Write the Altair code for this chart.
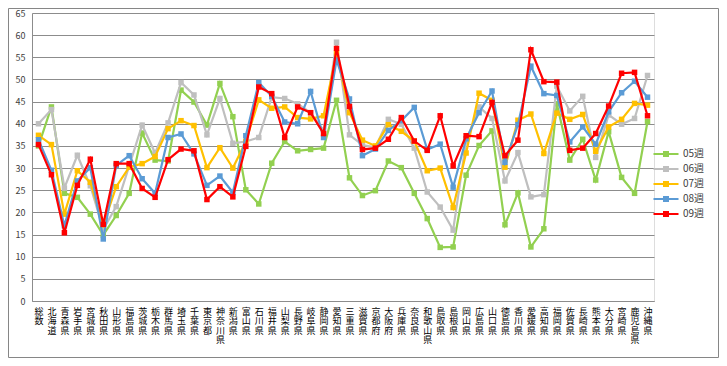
import altair as alt
import pandas as pd

categories = ["総数", "北海道", "青森県", "岩手県", "宮城県", "秋田県", "山形県", "福島県", "茨城県", "栃木県",
              "群馬県", "埼玉県", "千葉県", "東京都", "神奈川県", "新潟県", "富山県", "石川県", "福井県", "山梨県",
              "長野県", "岐阜県", "静岡県", "愛知県", "三重県", "滋賀県", "京都府", "大阪府", "兵庫県", "奈良県",
              "和歌山県", "鳥取県", "島根県", "岡山県", "広島県", "山口県", "徳島県", "香川県", "愛媛県", "高知県",
              "福岡県", "佐賀県", "長崎県", "熊本県", "大分県", "宮崎県", "鹿児島県", "沖縄県"]

series_names = ["05週", "06週", "07週", "08週", "09週"]
series_colors = ["#92D050", "#BFBFBF", "#FFC000", "#5B9BD5", "#FF0000"]

w05 = [35.0, 43.8, 24.3, 23.4, 19.6, 14.9, 19.3, 24.3, 37.9, 31.8, 31.6, 47.6, 44.9, 39.7, 49.1, 41.6,
       25.1, 21.9, 31.1, 36.0, 33.9, 34.2, 34.5, 45.3, 27.8, 23.8, 24.9, 31.6, 30.1, 24.3, 18.6, 12.1,
       12.2, 28.4, 35.1, 38.4, 17.2, 24.4, 12.2, 16.3, 44.5, 31.8, 36.5, 27.3, 38.2, 27.9, 24.3, 40.5]
w06 = [40.0, 43.2, 25.5, 32.9, 26.0, 16.2, 21.3, 30.5, 39.7, 33.4, 40.2, 49.3, 46.5, 37.5, 45.7, 35.6,
       36.0, 36.9, 46.0, 45.7, 44.5, 42.5, 38.5, 58.4, 37.5, 35.2, 34.7, 41.0, 39.9, 34.5, 24.6, 21.2,
       16.0, 36.0, 43.8, 41.2, 27.1, 33.5, 23.5, 24.0, 48.5, 42.9, 46.2, 32.4, 42.0, 39.9, 41.2, 50.9]
w07 = [37.4, 35.3, 19.6, 29.4, 26.8, 17.2, 25.8, 30.2, 31.0, 32.6, 38.9, 40.7, 39.6, 30.1, 34.6, 30.0,
       36.0, 45.4, 43.5, 43.8, 41.4, 41.1, 41.8, 56.0, 42.5, 36.3, 35.0, 39.8, 38.3, 36.1, 29.4, 30.0,
       21.1, 33.4, 46.9, 45.3, 30.2, 40.8, 42.2, 33.3, 42.4, 41.0, 42.1, 33.8, 39.3, 41.0, 44.6, 44.2]
w08 = [36.4, 29.5, 17.0, 27.1, 30.1, 14.0, 30.6, 32.8, 27.6, 24.3, 36.9, 37.7, 33.2, 26.1, 28.2, 24.5,
       37.3, 49.3, 46.2, 40.4, 40.0, 47.3, 36.9, 54.4, 45.6, 32.8, 34.3, 38.5, 40.7, 43.7, 34.2, 35.4,
       25.7, 36.6, 42.5, 47.4, 31.3, 39.8, 53.0, 46.8, 46.4, 35.9, 39.3, 35.4, 42.7, 47.0, 49.6, 46.0]
w09 = [35.3, 28.5, 15.4, 26.1, 32.0, 17.3, 31.0, 31.0, 25.4, 23.4, 31.9, 34.3, 33.9, 22.9, 25.8, 23.5,
       34.9, 48.3, 46.8, 36.9, 43.8, 42.5, 37.8, 57.0, 43.9, 34.2, 34.5, 36.5, 41.4, 36.1, 34.0, 41.8,
       30.5, 37.3, 37.1, 44.8, 32.8, 36.3, 56.7, 49.5, 49.4, 34.0, 34.5, 37.8, 44.0, 51.4, 51.6, 41.8]

y_ticks = list(range(0, 70, 5))

rows = []
for name, vals in zip(series_names, [w05, w06, w07, w08, w09]):
    for c, v in zip(categories, vals):
        rows.append({"pref": c, "series": name, "value": v})
df = pd.DataFrame(rows)

FONT = "Noto Sans CJK JP"
GRID = "#8C8C8C"

color = alt.Color(
    "series:N",
    scale=alt.Scale(domain=series_names, range=series_colors),
    legend=alt.Legend(
        title=None, orient="none", legendX=629, legendY=136,
        symbolType="M-2.5,-0.22H2.5V0.22H-2.5Z M-0.6,-0.6H0.6V0.6H-0.6Z",
        symbolSize=100, symbolStrokeWidth=0, labelOffset=12,
        rowPadding=5, labelFontSize=10, labelFont=FONT, labelColor="#404040",
        padding=0,
    ),
)
x = alt.X("pref:N", sort=categories, title=None,
          scale=alt.Scale(padding=0.5),
          axis=alt.Axis(labelExpr="split(datum.label, '')", labelAngle=0, labelBaseline="top",
                        labelAlign="center", labelPadding=6, labelFontSize=9, labelLineHeight=9.5,
                        labelFont=FONT, labelColor="#000000", labelOverlap=False, ticks=False,
                        domainColor=GRID, grid=False))
y = alt.Y("value:Q", title=None, scale=alt.Scale(domain=[0, 65], nice=False, zero=True),
          axis=alt.Axis(values=y_ticks, labelFontSize=9, labelFont=FONT, labelColor="#404040",
                        labelPadding=7, ticks=False, domainColor=GRID, gridColor=GRID, grid=True))

base = alt.Chart(df)
layers = []
for s in series_names:
    f = base.transform_filter(alt.datum.series == s)
    layers.append(f.mark_line(strokeWidth=2.2).encode(x=x, y=y, color=color))
    layers.append(f.mark_point(shape="square", filled=True, size=30, opacity=1, strokeWidth=0)
                  .encode(x=x, y=y, color=color))

frame = alt.Chart(pd.DataFrame({"a": [0]})).mark_rect(
    fillOpacity=0, stroke="#868686", strokeWidth=1
).encode(x=alt.value(-23.5), x2=alt.value(686.5), y=alt.value(-4.5), y2=alt.value(344.5))

chart = alt.layer(*layers, frame).properties(
    width=622, height=288,
    autosize=alt.AutoSizeParams(type="none"),
    padding={"left": 24, "top": 5, "right": 65, "bottom": 57},
).configure_view(stroke=None).configure(background="white")

chart.save("out.html", embed_options={"renderer": "svg", "actions": False})
